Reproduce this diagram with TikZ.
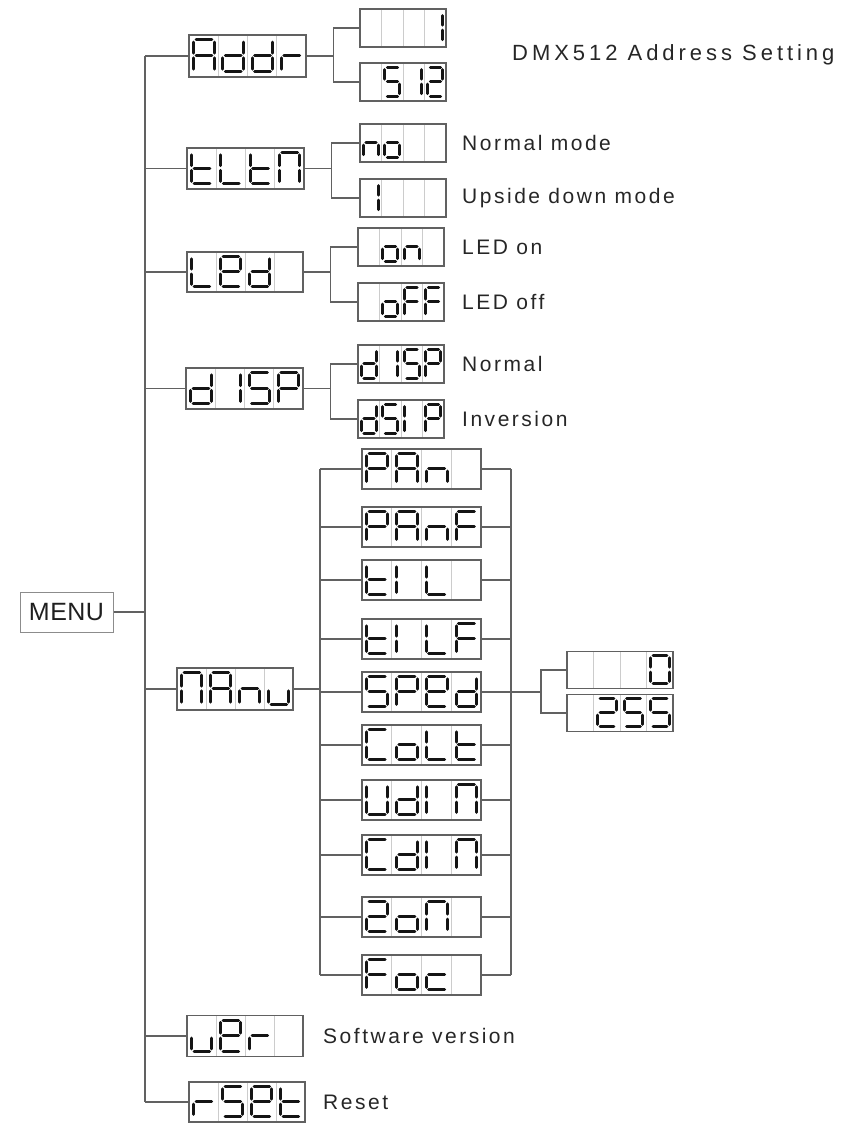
\documentclass[tikz,border=0pt]{standalone}
\usepackage{fontspec}
\setmainfont{Liberation Sans}[LetterSpace=12]
\newfontfamily\menufont{Liberation Sans}[LetterSpace=2]
\newfontfamily\dmxfont{Liberation Sans}[LetterSpace=18]
\def\zg{2.4}
\def\zsga{\draw[sg] (\zg,0) -- (\zW-\zg,0);}
\def\zsgb{\draw[sg] (\zW,\zg) -- (\zW,\zHh-\zg);}
\def\zsgc{\draw[sg] (\zW,\zHh+\zg) -- (\zW,\zH-\zg);}
\def\zsgd{\draw[sg] (\zg,\zH) -- (\zW-\zg,\zH);}
\def\zsge{\draw[sg] (0,\zHh+\zg) -- (0,\zH-\zg);}
\def\zsgf{\draw[sg] (0,\zg) -- (0,\zHh-\zg);}
\def\zsgg{\draw[sg] (\zg,\zHh) -- (\zW-\zg,\zHh);}
\def\zcA{a,b,c,e,f,g}
\def\zcd{b,c,d,e,g}
\def\zcr{e,g}
\def\zct{d,e,f,g}
\def\zcL{d,e,f}
\def\zcN{a,b,c,e,f}
\def\zcE{a,b,d,e,f,g}
\def\zcIr{b,c}
\def\zcIl{e,f}
\def\zcS{a,f,g,c,d}
\def\zcP{a,b,e,f,g}
\def\zcn{c,e,g}
\def\zco{c,d,e,g}
\def\zcF{a,e,f,g}
\def\zcu{c,d,e}
\def\zcC{a,d,e,f}
\def\zcU{b,c,d,e,f}
\def\zcZ{a,b,d,e,g}
\def\zcc{d,e,g}
\def\zcO{a,b,c,d,e,f}
\def\zcX{}
\newcommand\zdigit[5]{%
  \begin{scope}[shift={(#1,#2)}]
    \pgfmathsetmacro\zW{#3}%
    \pgfmathsetmacro\zH{#4}%
    \pgfmathsetmacro\zHh{#4/2}%
    \edef\zlist{#5}%
    \ifx\zlist\empty\else
    \foreach \s in \zlist {\csname zsg\s\endcsname}%
    \fi
  \end{scope}}
\newcommand\dbox[9]{%
  \node[dboxst, minimum width=#4, minimum height=#5] (#1) at (#2,#3) {};
  \pgfmathsetmacro\zcw{#4/4}%
  \pgfmathsetmacro\zbl{#2-#4/2}%
  \pgfmathsetmacro\zbt{#3-#5/2}%
  \pgfmathsetmacro\zbb{#3+#5/2}%
  \foreach \i in {1,2,3}{\draw[divst] (\zbl+\i*\zcw,\zbt+0.8) -- (\zbl+\i*\zcw,\zbb-0.8);}
  \pgfmathsetmacro\zdw{0.7*\zcw}%
  \pgfmathsetmacro\zdh{0.76*#5}%
  \pgfmathsetmacro\zdt{\zbt+0.11*#5}%
  \zdigit{\zbl+0.16*\zcw}{\zdt}{\zdw}{\zdh}{#6}%
  \zdigit{\zbl+1.16*\zcw}{\zdt}{\zdw}{\zdh}{#7}%
  \zdigit{\zbl+2.16*\zcw}{\zdt}{\zdw}{\zdh}{#8}%
  \zdigit{\zbl+3.16*\zcw}{\zdt}{\zdw}{\zdh}{#9}%
}
\begin{document}
\begin{tikzpicture}[x=1pt,y=-1pt,
  conn/.style={draw=black!62, line width=1.3pt},
  dboxst/.style={draw=black!62, line width=1.4pt, inner sep=0pt, fill=white},
  divst/.style={draw=black!20, line width=0.8pt},
  sg/.style={line width=3pt, line cap=round, draw=black!92},
  lbl/.style={anchor=west, inner sep=0pt, font=\fontsize{21}{25}\selectfont, text=black!85},
  menust/.style={draw=black!45, line width=1pt, minimum width=93pt, minimum height=40pt, inner sep=0pt, font=\menufont\fontsize{25}{29}\selectfont, text=black!88}]
\useasboundingbox (0,0) rectangle (863,1123);
% MENU
\node[menust] (MENU) at (66.5,612) {MENU};
\coordinate (mv) at (145,612);
% level 1
\dbox{Addr}{247.5}{56}{117}{42}{\zcA}{\zcd}{\zcd}{\zcr}
\dbox{tLtN}{245.5}{168.5}{117}{41}{\zct}{\zcL}{\zct}{\zcN}
\dbox{LEd}{245}{272}{116}{40}{\zcL}{\zcE}{\zcd}{\zcX}
\dbox{dISP}{244.5}{388.5}{117}{41}{\zcd}{\zcIr}{\zcS}{\zcP}
\dbox{MAnu}{235}{689}{116}{42}{\zcN}{\zcA}{\zcn}{\zcu}
\dbox{uEr}{245}{1036}{116}{41}{\zcu}{\zcE}{\zcr}{\zcX}
\dbox{rSPt}{247}{1102}{116}{40}{\zcr}{\zcS}{\zcE}{\zct}
% main trunk
\draw[conn] (MENU.east) -- (mv);
\draw[conn] (Addr.west -| mv) -- (rSPt.west -| mv);
\foreach \n in {Addr,tLtN,LEd,dISP,MAnu,uEr,rSPt}{\draw[conn] (\n.west -| mv) -- (\n.west);}
% sub boxes
\dbox{A1}{403}{28}{86}{38}{\zcX}{\zcX}{\zcX}{\zcIr}
\dbox{A2}{403}{82}{86}{38}{\zcX}{\zcS}{\zcIr}{\zcZ}
\dbox{T1}{403}{143}{86}{38}{\zcn}{\zco}{\zcX}{\zcX}
\dbox{T2}{403}{198}{86}{38}{\zcIr}{\zcX}{\zcX}{\zcX}
\dbox{L1}{401}{247}{86}{38}{\zcX}{\zco}{\zcn}{\zcX}
\dbox{L2}{401}{302}{86}{38}{\zcX}{\zco}{\zcF}{\zcF}
\dbox{D1}{401}{364}{86}{38}{\zcd}{\zcIr}{\zcS}{\zcP}
\dbox{D2}{401}{419}{86}{38}{\zcd}{\zcS}{\zcIl}{\zcP}
\foreach \p/\a/\b in {Addr/A1/A2,tLtN/T1/T2,LEd/L1/L2,dISP/D1/D2}{
  \draw[conn] (\p.east) -- ++(27,0) coordinate (j\p);
  \draw[conn] (\a.west) -| (j\p) |- (\b.west);
}
% Manu sub list
\coordinate (ml) at (320,469);
\coordinate (mr) at (511,469);
\dbox{PAn}{421.5}{469}{119}{40}{\zcP}{\zcA}{\zcn}{\zcX}
\dbox{PAnF}{421.5}{527}{119}{40}{\zcP}{\zcA}{\zcn}{\zcF}
\dbox{tIL}{421.5}{580}{119}{40}{\zct}{\zcIl}{\zcL}{\zcX}
\dbox{tILF}{421.5}{639}{119}{40}{\zct}{\zcIl}{\zcL}{\zcF}
\dbox{SPEd}{421.5}{692}{119}{40}{\zcS}{\zcP}{\zcE}{\zcd}
\dbox{CoLt}{421.5}{745}{119}{40}{\zcC}{\zco}{\zcL}{\zct}
\dbox{UdIN}{421.5}{800}{119}{40}{\zcU}{\zcd}{\zcIl}{\zcN}
\dbox{CdIN}{421.5}{855}{119}{40}{\zcC}{\zcd}{\zcIl}{\zcN}
\dbox{ZoN}{421.5}{917}{119}{40}{\zcZ}{\zco}{\zcN}{\zcX}
\dbox{Foc}{421.5}{975}{119}{40}{\zcF}{\zco}{\zcc}{\zcX}
\draw[conn] (MAnu.east) -- (MAnu.east -| ml);
\draw[conn] (PAn.west -| ml) -- (Foc.west -| ml);
\draw[conn] (PAn.east -| mr) -- (Foc.east -| mr);
\foreach \n in {PAn,PAnF,tIL,tILF,SPEd,CoLt,UdIN,CdIN,ZoN,Foc}{
  \draw[conn] (\n.west -| ml) -- (\n.west);
  \draw[conn] (\n.east) -- (\n.east -| mr);
}
% speed values
\dbox{S0}{620}{670}{106}{37}{\zcX}{\zcX}{\zcX}{\zcO}
\dbox{S255}{620}{713}{106}{37}{\zcX}{\zcZ}{\zcS}{\zcS}
\draw[conn] (SPEd.east -| mr) -- ++(30,0) coordinate (js);
\draw[conn] (S0.west) -| (js) |- (S255.west);
% labels
\node[lbl, font=\dmxfont\fontsize{22}{26}\selectfont] (tDMX) at (512,55) {DMX512 Address Setting};
\node[lbl] (tNm) at (462,143) {Normal mode};
\node[lbl] (tUd) at (462,198) {Upside down mode};
\node[lbl] (tLon) at (462,247) {LED on};
\node[lbl] (tLoff) at (462,302) {LED off};
\node[lbl] (tNo) at (462,364) {Normal};
\node[lbl] (tInv) at (462,419) {Inversion};
\node[lbl] (tSw) at (323,1036) {Software version};
\node[lbl] (tRs) at (323,1102) {Reset};
\end{tikzpicture}
\end{document}
